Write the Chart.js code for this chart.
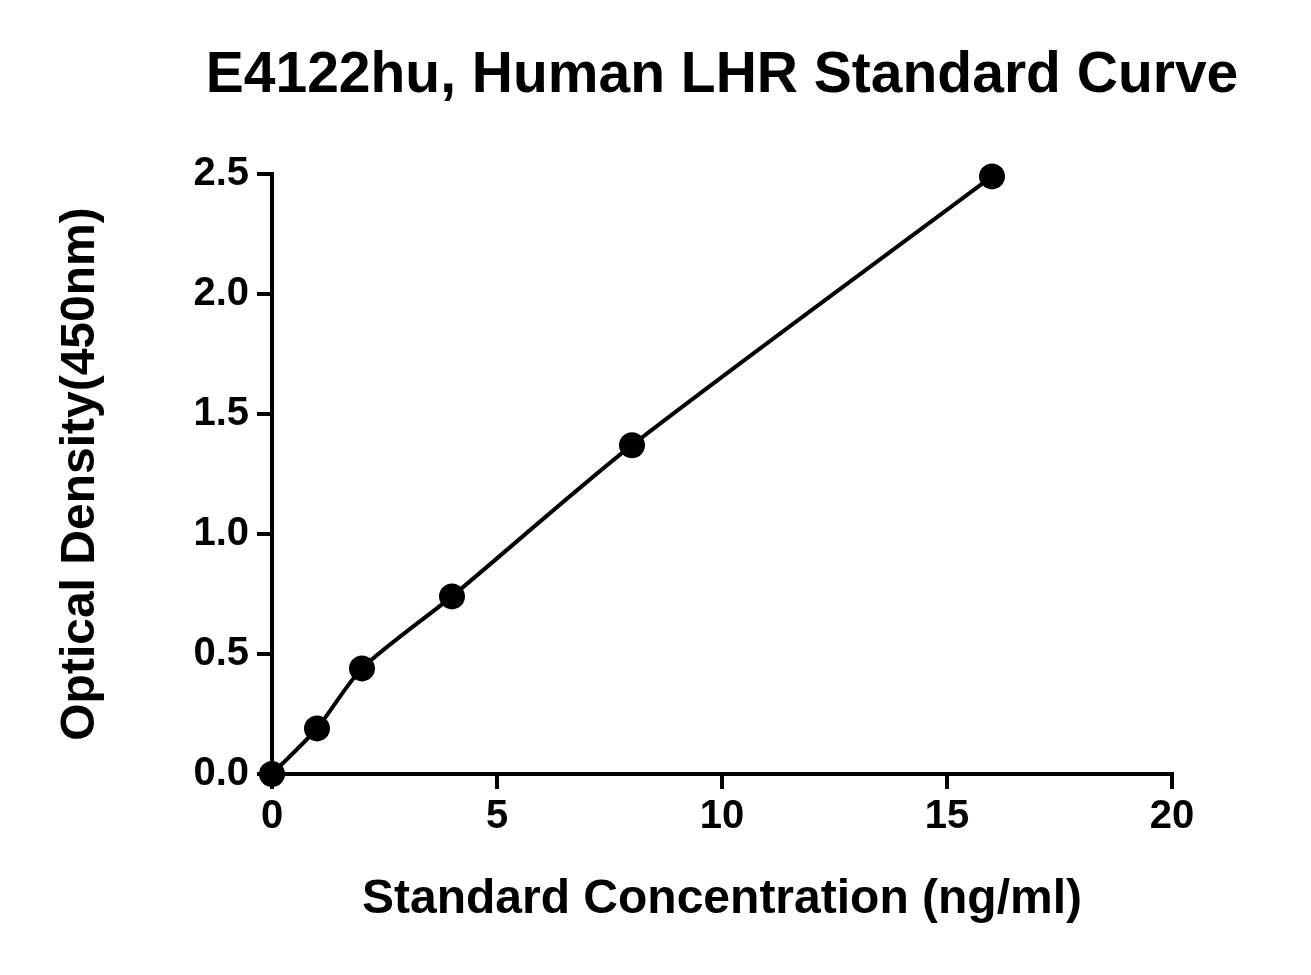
<!DOCTYPE html>
<html>
<head>
<script src="https://cdn.jsdelivr.net/npm/chart.js@4"></script>
<style>body{margin:0;background:#fff}</style>
</head>
<body>
<canvas id="c" width="1311" height="975"></canvas>
<script>
const concentrations = [0, 1, 2, 4, 8, 16];
const densities = [0.0, 0.19, 0.44, 0.74, 1.37, 2.49];
const xTicks = [0, 5, 10, 15, 20];
const yTicks = [0, 0.5, 1.0, 1.5, 2.0, 2.5];

const font = 'Arial, "Liberation Sans", sans-serif';

const titlePlugin = {
    id: 'topTitle',
    afterDraw(chart) {
        const ctx = chart.ctx;
        ctx.save();
        ctx.fillStyle = '#000';
        ctx.font = 'bold 57px ' + font;
        ctx.textAlign = 'center';
        ctx.textBaseline = 'middle';
        ctx.fillText('E4122hu, Human LHR Standard Curve', 722, 76);
        ctx.restore();
    }
};

new Chart(document.getElementById('c').getContext('2d'), {
    type: 'line',
    data: {
        datasets: [{
            data: concentrations.map((x, i) => ({ x: x, y: densities[i] })),
            borderColor: '#000',
            backgroundColor: '#000',
            borderWidth: 4,
            pointRadius: 11,
            pointHoverRadius: 11,
            tension: 0.25,
            fill: false,
            clip: false,
        }],
    },
    options: {
        responsive: false,
        animation: false,
        layout: { padding: { top: 174, right: 139, left: 52, bottom: 42 } },
        plugins: { legend: { display: false }, tooltip: { enabled: false } },
        scales: {
            x: {
                type: 'linear',
                min: 0,
                max: 20,
                afterBuildTicks: s => { s.ticks = xTicks.map(v => ({ value: v })); },
                afterFit: s => { s.height = 159; },
                border: { color: '#000', width: 4 },
                grid: { drawOnChartArea: false, drawTicks: true, tickLength: 15, color: '#000', lineWidth: 4 },
                ticks: { color: '#000', font: { family: font, weight: 'bold', size: 40 }, padding: 4 },
                title: { display: true, text: 'Standard Concentration (ng/ml)', color: '#000', font: { family: font, weight: 'bold', size: 48 }, padding: { top: 10 } },
            },
            y: {
                type: 'linear',
                min: 0,
                max: 2.5,
                afterBuildTicks: s => { s.ticks = yTicks.map(v => ({ value: v })); },
                afterFit: s => { s.width = 220; },
                border: { color: '#000', width: 4 },
                grid: { drawOnChartArea: false, drawTicks: true, tickLength: 15, color: '#000', lineWidth: 4 },
                ticks: { color: '#000', font: { family: font, weight: 'bold', size: 40 }, padding: 8, callback: v => v.toFixed(1) },
                title: { display: true, text: 'Optical Density(450nm)', color: '#000', font: { family: font, weight: 'bold', size: 48 }, padding: { top: 0, bottom: 0 } },
            },
        },
    },
    plugins: [titlePlugin],
});
</script>
</body>
</html>
